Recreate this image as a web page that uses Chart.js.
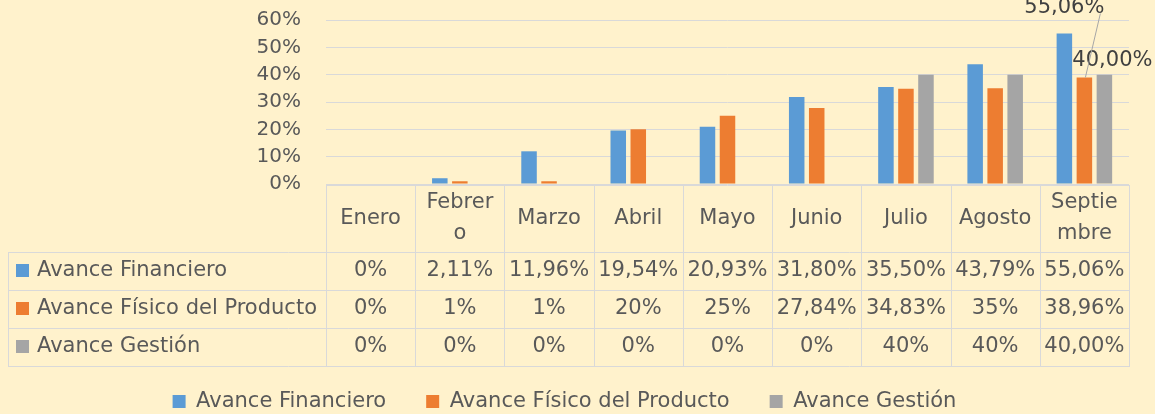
<!DOCTYPE html>
<html lang="es">
<head>
<meta charset="utf-8">
<title>Avance</title>
<script src="https://cdn.jsdelivr.net/npm/chart.js@4.4.1/dist/chart.umd.min.js"></script>
<style>
  html, body { margin: 0; padding: 0; background: #FFF2CC; }
  #contenedor { width: 1155px; height: 414px; position: relative; }
</style>
</head>
<body>
<div id="contenedor"><canvas id="grafica"></canvas></div>
<script>
const meses = ['Enero', 'Febrero', 'Marzo', 'Abril', 'Mayo', 'Junio', 'Julio', 'Agosto', 'Septiembre'];
const avanceFinanciero = [0, 2.11, 11.96, 19.54, 20.93, 31.80, 35.50, 43.79, 55.06];
const avanceFisico = [0, 1, 1, 20, 25, 27.84, 34.83, 35, 38.96];
const avanceGestion = [0, 0, 0, 0, 0, 0, 40, 40, 40];

// textos tal como aparecen en la tabla de datos
const textoFinanciero = ['0%', '2,11%', '11,96%', '19,54%', '20,93%', '31,80%', '35,50%', '43,79%', '55,06%'];
const textoFisico = ['0%', '1%', '1%', '20%', '25%', '27,84%', '34,83%', '35%', '38,96%'];
const textoGestion = ['0%', '0%', '0%', '0%', '0%', '0%', '40%', '40%', '40,00%'];

const ticksY = [0, 10, 20, 30, 40, 50, 60];

const COLOR_TEXTO = '#595959';
const COLOR_LINEA = '#D9D9D9';
const FUENTE = '21px "DejaVu Sans"';

Chart.defaults.font.family = '"DejaVu Sans"';
Chart.defaults.font.size = 20;
Chart.defaults.color = COLOR_TEXTO;

// parte un texto en lineas que quepan en el ancho de la celda
function partirTexto(ctx, texto, maxAncho) {
  const lineas = [];
  let actual = '';
  for (const letra of texto) {
    if (actual && ctx.measureText(actual + letra).width > maxAncho) {
      lineas.push(actual);
      actual = letra;
    } else {
      actual += letra;
    }
  }
  if (actual) lineas.push(actual);
  return lineas;
}

const tablaDatos = {
  id: 'tablaDatos',
  afterDraw(chart) {
    const ctx = chart.ctx;
    const area = chart.chartArea;
    const escalaX = chart.scales.x;
    const anchoCol = area.width / meses.length;
    const arriba = Math.round(area.bottom) + 1;
    const altoCab = 67;
    const altoFila = 38;
    const izq = 8;
    const textos = [textoFinanciero, textoFisico, textoGestion];
    const abajo = arriba + altoCab + altoFila * textos.length;

    ctx.save();
    ctx.strokeStyle = COLOR_LINEA;
    ctx.lineWidth = 1;
    ctx.beginPath();
    // bordes verticales de las columnas
    for (let k = 0; k <= meses.length; k++) {
      const xl = Math.round(area.left + k * anchoCol) + 0.5;
      ctx.moveTo(xl, arriba);
      ctx.lineTo(xl, abajo);
    }
    ctx.moveTo(izq + 0.5, arriba + altoCab);
    ctx.lineTo(izq + 0.5, abajo);
    // bordes horizontales
    ctx.moveTo(area.left, arriba + 0.5);
    ctx.lineTo(area.right, arriba + 0.5);
    for (let f = 0; f <= textos.length; f++) {
      const yl = arriba + altoCab + f * altoFila + 0.5;
      ctx.moveTo(izq, yl);
      ctx.lineTo(area.right + 1, yl);
    }
    ctx.stroke();

    ctx.font = FUENTE;
    ctx.fillStyle = COLOR_TEXTO;
    ctx.textBaseline = 'middle';
    ctx.textAlign = 'center';

    // encabezado con los meses
    meses.forEach((mes, i) => {
      const cx = escalaX.getPixelForValue(i);
      const lineas = partirTexto(ctx, mes, anchoCol - 13);
      const centro = arriba + altoCab / 2;
      const salto = 31;
      lineas.forEach((linea, j) => {
        ctx.fillText(linea, cx, centro + (j - (lineas.length - 1) / 2) * salto);
      });
    });

    // filas de cada serie
    chart.data.datasets.forEach((ds, f) => {
      const cy = arriba + altoCab + f * altoFila + altoFila / 2;
      ctx.fillStyle = ds.backgroundColor;
      ctx.fillRect(16, Math.round(cy - 7), 13, 13);
      ctx.fillStyle = COLOR_TEXTO;
      ctx.textAlign = 'left';
      ctx.fillText(ds.label, 37, cy);
      ctx.textAlign = 'center';
      textos[f].forEach((t, i) => {
        ctx.fillText(t, escalaX.getPixelForValue(i), cy);
      });
    });
    ctx.restore();
  }
};

const etiquetasSeptiembre = {
  id: 'etiquetasSeptiembre',
  afterDatasetsDraw(chart) {
    const ctx = chart.ctx;
    const ultimo = meses.length - 1;
    const barraFin = chart.getDatasetMeta(0).data[ultimo];
    const barraFis = chart.getDatasetMeta(1).data[ultimo];
    const barraGes = chart.getDatasetMeta(2).data[ultimo];
    const formato = (v) => v.toFixed(2).replace('.', ',') + '%';

    ctx.save();
    ctx.font = FUENTE;
    ctx.fillStyle = '#404040';
    ctx.textAlign = 'center';
    ctx.textBaseline = 'middle';

    const yFin = barraFin.y - 26;
    ctx.fillText(formato(avanceFinanciero[ultimo]), barraFin.x, yFin);
    ctx.fillText(formato(avanceGestion[ultimo]), barraGes.x + 8, barraGes.y - 14);

    // linea guia de la etiqueta
    ctx.strokeStyle = '#A6A6A6';
    ctx.lineWidth = 1;
    ctx.beginPath();
    ctx.moveTo(barraFin.x + 36, yFin + 6);
    ctx.lineTo(barraFis.x + 1, barraFis.y);
    ctx.stroke();
    ctx.restore();
  }
};

new Chart(document.getElementById('grafica'), {
  type: 'bar',
  data: {
    labels: meses,
    datasets: [
      {
        label: 'Avance Financiero',
        data: avanceFinanciero,
        backgroundColor: '#5B9BD5'
      },
      {
        label: 'Avance Físico del Producto',
        data: avanceFisico,
        backgroundColor: '#ED7D31'
      },
      {
        label: 'Avance Gestión',
        data: avanceGestion,
        backgroundColor: '#A5A5A5'
      }
    ]
  },
  options: {
    responsive: true,
    maintainAspectRatio: false,
    animation: false,
    layout: {
      padding: { top: 20, right: 26, bottom: -8, left: 0 }
    },
    datasets: {
      bar: {
        categoryPercentage: 0.673,
        barPercentage: 0.775
      }
    },
    plugins: {
      legend: {
        position: 'bottom',
        labels: {
          boxWidth: 13,
          boxHeight: 13,
          padding: 40,
          color: COLOR_TEXTO,
          font: { size: 21 }
        }
      },
      tooltip: { enabled: false }
    },
    scales: {
      x: {
        grid: { display: false },
        border: { display: false },
        ticks: { display: false },
        afterFit: (escala) => { escala.height = 167; }
      },
      y: {
        min: ticksY[0],
        max: ticksY[ticksY.length - 1],
        grid: {
          color: COLOR_LINEA,
          drawTicks: true,
          tickLength: 25,
          tickColor: 'rgba(0,0,0,0)'
        },
        border: { display: false },
        ticks: {
          stepSize: ticksY[1] - ticksY[0],
          autoSkip: false,
          padding: 0,
          color: COLOR_TEXTO,
          font: { size: 20 },
          callback: (valor) => valor + '%'
        },
        afterFit: (escala) => { escala.width = 326; }
      }
    }
  },
  plugins: [tablaDatos, etiquetasSeptiembre]
});
</script>
</body>
</html>
